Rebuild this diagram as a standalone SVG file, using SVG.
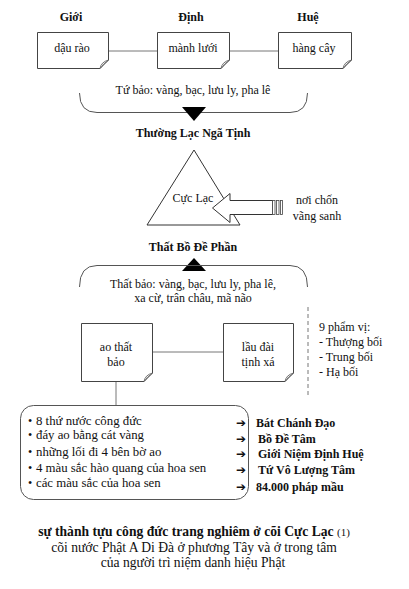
<svg xmlns="http://www.w3.org/2000/svg" width="409" height="589" viewBox="0 0 409 589">
<style>
text{font-family:"Liberation Serif","Times New Roman",serif;font-size:12px;fill:#111}
.b{font-weight:bold}
.m{text-anchor:middle}
.li{font-size:12.8px}
.cap{font-size:13.6px}
.box{fill:#fff;stroke:#444;stroke-width:1}
.ln{fill:none;stroke:#777;stroke-width:1}
.br{fill:none;stroke:#555;stroke-width:1}
.fold{fill:#fff;stroke:#555;stroke-width:0.8}
.arr{font-family:"DejaVu Sans",sans-serif;font-size:12px;font-weight:bold}
</style>
<rect width="409" height="589" fill="#fff"/>
<g id="connectors">
<line class="ln" x1="108" y1="51" x2="157" y2="51"/>
<line class="ln" x1="229" y1="51" x2="278" y2="51"/>
<line class="ln" x1="152" y1="352" x2="223" y2="352"/>
<line class="ln" x1="116" y1="381" x2="116" y2="405"/>
<line class="ln" x1="308" y1="307" x2="308" y2="395" stroke-dasharray="4,3"/>
</g>
<g id="headings">
<text class="b m" x="71" y="21">Giới</text>
<text class="b m" x="191" y="21">Định</text>
<text class="b m" x="308" y="21">Huệ</text>
</g>
<g id="box-dau-rao">
<path class="box" d="M37.5,32.5 H108.5 V60 L100,68.5 H37.5 Z"/>
<path class="fold" d="M100,68.5 Q101,62 108.5,60 Q103,64 100,68.5 Z"/>
<text class="m" x="72" y="52">dậu rào</text>
</g>
<g id="box-manh-luoi">
<path class="box" d="M157.5,32.5 H229.5 V60 L221,68.5 H157.5 Z"/>
<path class="fold" d="M221,68.5 Q222,62 229.5,60 Q224,64 221,68.5 Z"/>
<text class="m" x="193" y="52">mành lưới</text>
</g>
<g id="box-hang-cay">
<path class="box" d="M278.5,32.5 H351.5 V60 L343,68.5 H278.5 Z"/>
<path class="fold" d="M343,68.5 Q344,62 351.5,60 Q346,64 343,68.5 Z"/>
<text class="m" x="314" y="52">hàng cây</text>
</g>
<g id="tu-bao">
<text class="m" x="193" y="94">Tứ bảo: vàng, bạc, lưu ly, pha lê</text>
<path class="br" d="M79.5,93 Q79.5,112.5 97,112.5 L290,112.5 Q307.5,112.5 307.5,93"/>
<polygon points="182,107 206,107 194,121" fill="#000"/>
</g>
<g id="thuong-lac">
<text class="b m" x="193" y="137">Thường Lạc Ngã Tịnh</text>
</g>
<g id="cuc-lac">
<polygon points="194,150 147,225 240,225" fill="#fff" stroke="#333" stroke-width="1"/>
<text class="m" x="193" y="202">Cực Lạc</text>
</g>
<g id="arrow-vang-sanh">
<polygon points="212.5,208 230,193.5 230,200.5 272.5,200.5 272.5,214.5 230,214.5 230,222.5" fill="#fff" stroke="#333" stroke-width="1"/>
<rect x="272.5" y="200.5" width="2.5" height="14" fill="#fff" stroke="#444" stroke-width="0.8"/>
<rect x="276.5" y="200.5" width="2.5" height="14" fill="#fff" stroke="#444" stroke-width="0.8"/>
<rect x="280.5" y="200.5" width="2" height="14" fill="#fff" stroke="#444" stroke-width="0.8"/>
<text class="m" x="317" y="204">nơi chốn</text>
<text class="m" x="317" y="220">vãng sanh</text>
</g>
<g id="that-bo-de">
<text class="b m" x="193" y="251">Thất Bồ Đề Phần</text>
</g>
<g id="that-bao">
<polygon points="182,271 206,271 194,258" fill="#000"/>
<path class="br" d="M79.5,287 Q79.5,265.5 97,265.5 L290,265.5 Q307.5,265.5 307.5,287"/>
<text class="m" x="193" y="288">Thất bảo: vàng, bạc, lưu ly, pha lê,</text>
<text class="m" x="193" y="302">xa cừ, trân châu, mã não</text>
</g>
<g id="box-ao-that-bao">
<path class="box" d="M81.5,323.5 H152.5 V373 L144,381.5 H81.5 Z"/>
<path class="fold" d="M144,381.5 Q145,375 152.5,373 Q147,377 144,381.5 Z"/>
<text class="m" x="116" y="351">ao thất</text>
<text class="m" x="116" y="366">bảo</text>
</g>
<g id="box-lau-dai">
<path class="box" d="M223.5,323.5 H293.5 V373 L285,381.5 H223.5 Z"/>
<path class="fold" d="M285,381.5 Q286,375 293.5,373 Q288,377 285,381.5 Z"/>
<text class="m" x="258" y="351">lầu đài</text>
<text class="m" x="258" y="366">tịnh xá</text>
</g>
<g id="pham-vi">
<text x="319" y="331">9 phẩm vị:</text>
<text x="319" y="346">- Thượng bối</text>
<text x="319" y="361">- Trung bối</text>
<text x="319" y="376">- Hạ bối</text>
</g>
<g id="cong-duc">
<rect x="20.5" y="405.5" width="228" height="94" rx="13" ry="13" fill="#fff" stroke="#555" stroke-width="1"/>
<text x="28" y="425">•</text><text class="li" x="36" y="425">8 thứ nước công đức</text>
<text x="28" y="439">•</text><text class="li" x="36" y="439">đáy ao bằng cát vàng</text>
<text x="28" y="456">•</text><text class="li" x="36" y="456">những lối đi 4 bên bờ ao</text>
<text x="28" y="472">•</text><text class="li" x="36" y="472">4 màu sắc hào quang của hoa sen</text>
<text x="28" y="487">•</text><text class="li" x="36" y="487">các màu sắc của hoa sen</text>
</g>
<g id="y-nghia">
<text class="arr" x="236" y="427">➔</text><text class="b" x="256" y="427">Bát Chánh Đạo</text>
<text class="arr" x="236" y="443">➔</text><text class="b" x="258" y="443">Bồ Đề Tâm</text>
<text class="arr" x="236" y="458">➔</text><text class="b" x="258" y="458">Giới Niệm Định Huệ</text>
<text class="arr" x="236" y="474">➔</text><text class="b" x="258" y="474">Tứ Vô Lượng Tâm</text>
<text class="arr" x="236" y="491">➔</text><text class="b" x="256" y="491">84.000 pháp mầu</text>
</g>
<g id="caption">
<text class="m cap" x="194" y="536"><tspan class="b">sự thành tựu công đức trang nghiêm ở cõi Cực Lạc</tspan> <tspan font-size="11">(1)</tspan></text>
<text class="m cap" x="194" y="552">cõi nước Phật A Di Đà ở phương Tây và ở trong tâm</text>
<text class="m cap" x="193" y="567">của người trì niệm danh hiệu Phật</text>
</g>
</svg>
